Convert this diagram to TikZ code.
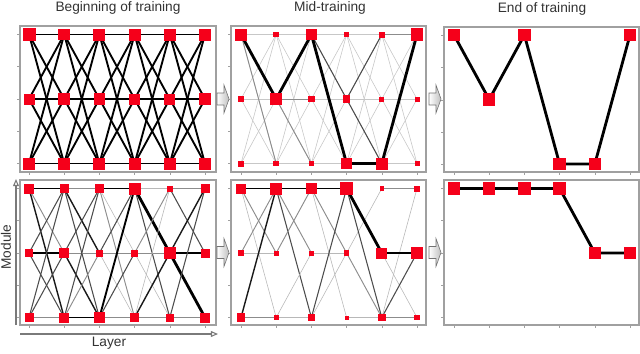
\documentclass[tikz,border=0pt]{standalone}
\usepackage{fontspec}
\setmainfont{Liberation Sans}
\usetikzlibrary{positioning, arrows.meta, calc}
\definecolor{myRed}{HTML}{F5001A}
\definecolor{myFrame}{HTML}{A0A0A0}
\definecolor{myText}{HTML}{333333}
\definecolor{myAxis}{HTML}{7A7A7A}
\pgfdeclarelayer{bg}
\pgfsetlayers{bg,main}

\begin{document}
\begin{tikzpicture}[x=0.03cm, y=-0.03cm,
  unit/.style={fill=myRed, inner sep=0pt, minimum size=#1*0.03cm},
  frame/.style={draw=myFrame, line width=0.9pt},
  tick/.style={draw=myFrame, line width=0.5pt},
  caption/.style={font=\fontsize{11.7}{13}\selectfont, text=myText},
  axis/.style={draw=myAxis, line width=0.9pt, -{Triangle[open, length=6pt, width=5pt]}},
  blockarr/.style={draw=black!55, line width=0.5pt, left color=white, right color=black!25},
  faint/.style={line width=0.5pt, black!22},
  full/.style={line width=1.6pt, black},
  lk0/.style={line width=0.5pt, black!28},
  lk1/.style={line width=0.8pt, black!45},
  lk2/.style={line width=0.9pt, black!70},
  lk3/.style={line width=1.2pt, black!90},
  lk4/.style={line width=1.6pt, black},
  lk5/.style={line width=2.4pt, black}
]
\useasboundingbox (0,0) rectangle (640,353);

% titles
\node[caption] (ttl-b) at (118,8) {Beginning of training};
\node[caption] (ttl-m) at (330,8) {Mid-training};
\node[caption] (ttl-e) at (542,9) {End of training};

% frames and ticks
\foreach \fl/\fr/\ft/\fb/\nx in {20/216/26/172/29, 231/426/26/172/241, 444/639/27/172/454,
                                 20/216/180/325/29, 231/426/180/325/241, 444/639/180/325/454} {
  \draw[frame] (\fl,\ft) rectangle (\fr,\fb);
  \foreach \k in {0,...,5}
    \draw[tick] ({\nx+35.2*\k},\fb) -- ++(0,3);
  \foreach \k in {0,...,4}
    \draw[tick] (\fl,{\ft+8.5+32.25*\k}) -- ++(-3,0);
}

% units, sizes row by row (top, middle, bottom module)
\foreach \nm/\nx/\ny/\sizes in {
  bt/29/34.5/{13,11.5,12,12,12,12, 11,12.5,11.5,11,11,11.5, 12,12,12,12,12,12},
  bl/29/188.5/{10,9,9,12,6,9, 8,9.5,7,7,12.5,9, 9,10,11.5,9,8,10},
  mt/241/34.5/{12,5.5,11.5,5.5,6,12.5, 5.5,12,6.5,7.5,5,5, 6,5.5,5.5,11,12,5},
  ml/241/188.5/{10,12,11,12.5,4.5,6, 5.5,5,5,5.5,11,11.5, 8.5,5,7,4,7.5,5.5}} {
  \foreach \s [count=\i from 0] in \sizes {
    \pgfmathtruncatemacro\l{mod(\i,6)+1}
    \pgfmathtruncatemacro\m{div(\i,6)+1}
    \node[unit=\s] (\nm-\l-\m) at ({\nx+35.2*(\l-1)}, {\ny+64.5*(\m-1)}) {};
  }
}
\foreach \l/\m in {1/1, 2/2, 3/1, 4/3, 5/3, 6/1}
  \node[unit=12.5] (et-\l-\m) at ({454+35.2*(\l-1)}, {35+64.5*(\m-1)}) {};
\foreach \l/\m in {1/1, 2/1, 3/1, 4/1, 5/2, 6/2}
  \node[unit=12.5] (el-\l-\m) at ({454+35.2*(\l-1)}, {188.5+64.5*(\m-1)}) {};

\begin{pgfonlayer}{bg}
% beginning: all links
\foreach \l in {1,...,5} {
  \pgfmathtruncatemacro\n{\l+1}
  \foreach \a in {1,2,3}
    \foreach \b in {1,2,3} {
      \draw[full] (bt-\l-\a.center) -- (bt-\n-\b.center);
      \draw[faint] (mt-\l-\a.center) -- (mt-\n-\b.center);
    }
}
\foreach \l/\a/\b/\w in {
  1/1/1/lk4, 1/1/2/lk1, 1/1/3/lk3, 1/2/1/lk2, 1/2/2/lk4, 1/2/3/lk2, 1/3/1/lk2, 1/3/2/lk2, 1/3/3/lk1,
  2/1/1/lk1, 2/1/2/lk3, 2/1/3/lk2, 2/2/1/lk2, 2/2/2/lk1, 2/2/3/lk3, 2/3/1/lk2, 2/3/2/lk1, 2/3/3/lk4,
  3/1/1/lk4, 3/1/2/lk0, 3/1/3/lk1, 3/2/1/lk2, 3/2/2/lk1, 3/2/3/lk0, 3/3/1/lk4, 3/3/2/lk2, 3/3/3/lk1,
  4/1/1/lk0, 4/1/2/lk5, 4/1/3/lk2, 4/2/1/lk1, 4/2/2/lk1, 4/2/3/lk0, 4/3/1/lk0, 4/3/2/lk3, 4/3/3/lk1,
  5/1/1/lk1, 5/1/2/lk2, 5/2/1/lk3, 5/2/2/lk4, 5/2/3/lk5, 5/3/1/lk2, 5/3/3/lk1} {
  \pgfmathtruncatemacro\n{\l+1}
  \draw[\w] (bl-\l-\a.center) -- (bl-\n-\b.center);
}
% mid-training
\foreach \l/\a/\b/\w in {
  1/1/3/lk1, 2/2/2/lk1, 2/2/3/lk1, 3/1/2/lk2, 4/2/1/lk2, 4/2/3/lk2, 5/1/1/lk1,
  1/1/2/lk5, 2/2/1/lk5, 3/1/3/lk5, 4/3/3/lk5, 5/3/1/lk5} {
  \pgfmathtruncatemacro\n{\l+1}
  \draw[\w] (mt-\l-\a.center) -- (mt-\n-\b.center);
}
\foreach \l/\a/\b/\w in {
  1/1/2/lk1, 1/1/3/lk0, 1/2/1/lk1, 1/2/2/lk0, 1/3/1/lk3, 1/3/3/lk1,
  2/1/2/lk1, 2/1/3/lk2, 2/2/1/lk1, 2/3/2/lk0, 2/3/3/lk0,
  3/1/2/lk1, 3/1/3/lk0, 3/2/2/lk0, 3/3/1/lk2, 3/3/2/lk0,
  4/2/1/lk0, 4/2/3/lk1, 4/1/3/lk2, 4/3/3/lk0,
  5/1/1/lk1, 5/2/3/lk0, 5/3/1/lk0, 5/3/2/lk2, 5/3/3/lk1,
  1/1/1/lk4, 2/1/1/lk4, 3/1/1/lk4, 4/1/2/lk5, 5/2/2/lk5} {
  \pgfmathtruncatemacro\n{\l+1}
  \draw[\w] (ml-\l-\a.center) -- (ml-\n-\b.center);
}
% end of training
\draw[lk5] (et-1-1.center) -- (et-2-2.center) -- (et-3-1.center) -- (et-4-3.center)
  -- (et-5-3.center) -- (et-6-1.center);
\draw[lk5] (el-1-1.center) -- (el-2-1.center) -- (el-3-1.center) -- (el-4-1.center)
  -- (el-5-2.center) -- (el-6-2.center);
\end{pgfonlayer}

% block arrows between panels
\foreach \ax/\ay in {217/99, 429/99, 217/252.5, 429/252.5}
  \draw[blockarr] (\ax,\ay-6) -- ++(7,0) -- ++(0,-8) -- ++(5,14) -- ++(-5,14)
    -- ++(0,-8) -- ++(-7,0) -- cycle;

% axes
\coordinate (ax-o) at (16,325);
\coordinate (ax-up) at (16,179);
\coordinate (ax-s) at (20,334);
\coordinate (ax-r) at (218,334);
\draw[axis] (ax-o) -- (ax-up);
\draw[axis] (ax-s) -- (ax-r);
\node[caption, rotate=90] (module) at (6,247) {Module};
\node[caption] (layer) at (109,343) {Layer};
\end{tikzpicture}
\end{document}
